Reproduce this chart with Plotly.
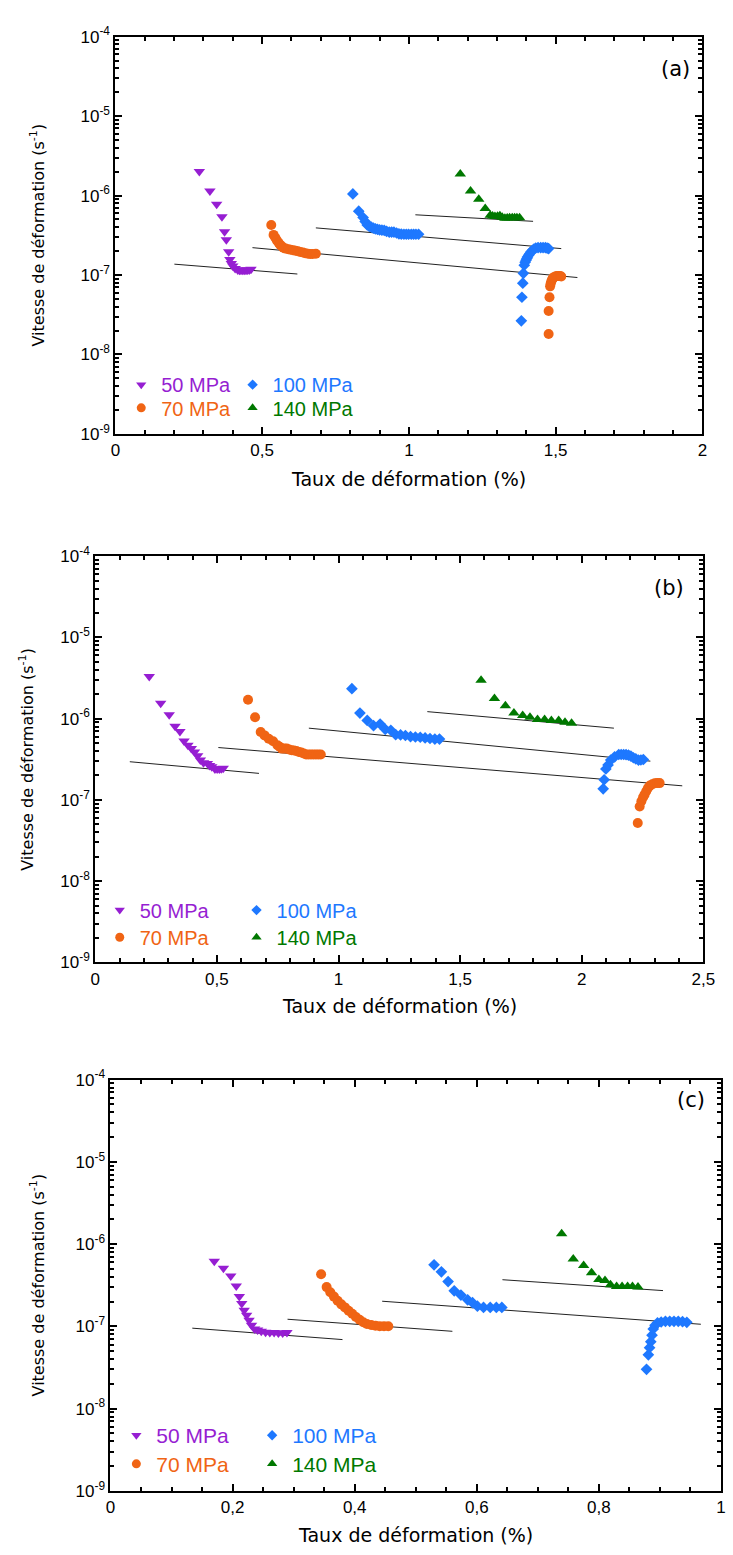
import plotly.graph_objects as go

W, H = 733, 1555

# ---------------- data : panel (a) ----------------
a_50_x = [0.286, 0.322, 0.345, 0.363, 0.372, 0.378, 0.386, 0.390, 0.395, 0.400, 0.408,
          0.417, 0.423, 0.428, 0.434, 0.439, 0.445, 0.450, 0.456, 0.462]
a_50_y = [2.01e-6, 1.14e-6, 7.8e-7, 5.4e-7, 3.5e-7, 2.78e-7, 1.96e-7, 1.57e-7, 1.40e-7, 1.30e-7, 1.21e-7,
          1.16e-7, 1.15e-7, 1.15e-7, 1.15e-7, 1.15e-7, 1.15e-7, 1.16e-7, 1.16e-7, 1.18e-7]
a_70_x = [0.531, 0.539, 0.545, 0.550, 0.556, 0.561, 0.567, 0.572, 0.580, 0.589, 0.597, 0.606, 0.614,
          0.622, 0.630, 0.639, 0.647, 0.656, 0.664, 0.672, 0.683,
          1.476, 1.476, 1.479, 1.481, 1.483, 1.485, 1.488, 1.490, 1.494, 1.499, 1.504, 1.510, 1.515, 1.519]
a_70_y = [4.27e-7, 3.2e-7, 2.95e-7, 2.73e-7, 2.55e-7, 2.41e-7, 2.3e-7, 2.21e-7, 2.15e-7, 2.11e-7, 2.08e-7, 2.05e-7, 2.02e-7,
          1.99e-7, 1.95e-7, 1.92e-7, 1.88e-7, 1.85e-7, 1.84e-7, 1.84e-7, 1.85e-7,
          1.81e-8, 3.52e-8, 5.25e-8, 7.2e-8, 7.8e-8, 8.3e-8, 8.8e-8, 9.1e-8, 9.4e-8, 9.57e-8, 9.7e-8, 9.75e-8, 9.7e-8, 9.57e-8]
a_100_x = [0.809, 0.829, 0.844, 0.851, 0.858, 0.865, 0.872, 0.879, 0.886, 0.893, 0.900, 0.908, 0.916,
           0.924, 0.933, 0.941, 0.949, 0.958, 0.966, 0.974, 0.983, 0.991, 0.999, 1.008, 1.016, 1.024, 1.033,
           1.383, 1.385, 1.388, 1.390, 1.393, 1.396, 1.399, 1.402, 1.404, 1.408, 1.412, 1.416, 1.421, 1.426,
           1.432, 1.440, 1.449, 1.457, 1.465, 1.471, 1.476]
a_100_y = [1.05e-6, 6.37e-7, 5.3e-7, 4.7e-7, 4.27e-7, 4.1e-7, 4.0e-7, 3.9e-7, 3.81e-7, 3.75e-7, 3.7e-7, 3.67e-7, 3.64e-7,
           3.55e-7, 3.47e-7, 3.47e-7, 3.47e-7, 3.38e-7, 3.30e-7, 3.28e-7, 3.26e-7, 3.26e-7, 3.26e-7, 3.26e-7, 3.26e-7, 3.26e-7, 3.26e-7,
           2.65e-8, 5.25e-8, 7.9e-8, 1.05e-7, 1.33e-7, 1.45e-7, 1.54e-7, 1.62e-7, 1.69e-7, 1.78e-7, 1.86e-7, 1.96e-7, 2.05e-7, 2.12e-7,
           2.19e-7, 2.21e-7, 2.21e-7, 2.21e-7, 2.21e-7, 2.18e-7, 2.15e-7]
a_140_x = [1.175, 1.210, 1.238, 1.260, 1.277, 1.285, 1.293, 1.302, 1.310, 1.318, 1.327, 1.335, 1.343, 1.352, 1.360, 1.368, 1.377]
a_140_y = [1.87e-6, 1.14e-6, 8.97e-7, 6.87e-7, 5.67e-7, 5.55e-7, 5.47e-7, 5.5e-7, 5.56e-7, 5.35e-7, 5.2e-7, 5.22e-7, 5.25e-7,
           5.25e-7, 5.25e-7, 5.25e-7, 5.25e-7]
a_fit50_x, a_fit50_y = [0.201, 0.620], [1.37e-7, 1.03e-7]
a_fit70_x, a_fit70_y = [0.467, 1.574], [2.21e-7, 9.3e-8]
a_fit100_x, a_fit100_y = [0.683, 1.519], [3.92e-7, 2.15e-7]
a_fit140_x, a_fit140_y = [1.022, 1.423], [5.73e-7, 4.74e-7]

# ---------------- data : panel (b) ----------------
b_50_x = [0.222, 0.269, 0.304, 0.328, 0.348, 0.365, 0.381, 0.395, 0.408, 0.421, 0.432, 0.445, 0.461,
          0.470, 0.479, 0.492, 0.501, 0.510, 0.518, 0.526]
b_50_y = [3.31e-6, 1.55e-6, 1.12e-6, 8.09e-7, 6.97e-7, 5.31e-7, 4.70e-7, 4.28e-7, 3.90e-7, 3.49e-7, 3.09e-7, 2.86e-7, 2.81e-7,
          2.65e-7, 2.56e-7, 2.40e-7, 2.40e-7, 2.40e-7, 2.42e-7, 2.45e-7]
b_70_x = [0.628, 0.657, 0.680, 0.696, 0.713, 0.731, 0.749, 0.758, 0.767, 0.777, 0.787, 0.797, 0.807, 0.817, 0.827,
          0.837, 0.847, 0.857, 0.867, 0.877, 0.887, 0.897, 0.907, 0.917, 0.927,
          2.230, 2.238, 2.245, 2.252, 2.258, 2.265, 2.272, 2.280, 2.290, 2.300, 2.310, 2.320]
b_70_y = [1.71e-6, 1.04e-6, 6.84e-7, 6.22e-7, 5.66e-7, 5.26e-7, 4.70e-7, 4.5e-7, 4.28e-7, 4.28e-7, 4.28e-7, 4.18e-7, 4.09e-7, 4.05e-7, 4.0e-7,
          3.9e-7, 3.83e-7, 3.72e-7, 3.62e-7, 3.62e-7, 3.62e-7, 3.62e-7, 3.62e-7, 3.62e-7, 3.62e-7,
          5.2e-8, 8.3e-8, 9.6e-8, 1.08e-7, 1.16e-7, 1.28e-7, 1.40e-7, 1.50e-7, 1.56e-7, 1.6e-7, 1.61e-7, 1.61e-7]
b_100_x = [1.055, 1.088, 1.118, 1.144, 1.171, 1.192, 1.215, 1.235, 1.255, 1.275, 1.296, 1.316, 1.336, 1.356, 1.376,
           1.396, 1.415,
           2.088, 2.092, 2.099, 2.108, 2.119, 2.135, 2.152, 2.162, 2.172, 2.182, 2.192, 2.202, 2.212, 2.222, 2.233, 2.243, 2.253]
b_100_y = [2.34e-6, 1.17e-6, 9.5e-7, 8.2e-7, 8.6e-7, 7.4e-7, 7.2e-7, 6.35e-7, 6.3e-7, 6.2e-7, 6.0e-7, 5.95e-7, 5.9e-7, 5.8e-7, 5.7e-7,
           5.6e-7, 5.6e-7,
           1.37e-7, 1.77e-7, 2.40e-7, 2.69e-7, 3.09e-7, 3.39e-7, 3.62e-7, 3.62e-7, 3.62e-7, 3.6e-7, 3.56e-7, 3.45e-7, 3.30e-7, 3.2e-7, 3.09e-7, 3.1e-7, 3.14e-7]
b_140_x = [1.586, 1.641, 1.686, 1.721, 1.757, 1.787, 1.818, 1.847, 1.875, 1.905, 1.931, 1.958]
b_140_y = [2.96e-6, 1.77e-6, 1.44e-6, 1.17e-6, 1.09e-6, 1.04e-6, 9.75e-7, 9.75e-7, 9.48e-7, 9.48e-7, 9.03e-7, 8.79e-7]
b_fit50_x, b_fit50_y = [0.142, 0.673], [2.95e-7, 2.12e-7]
b_fit70_x, b_fit70_y = [0.506, 2.413], [4.41e-7, 1.49e-7]
b_fit100_x, b_fit100_y = [0.878, 2.282], [7.64e-7, 3.0e-7]
b_fit140_x, b_fit140_y = [1.365, 2.132], [1.22e-6, 7.64e-7]

# ---------------- data : panel (c) ----------------
c_50_x = [0.170, 0.185, 0.197, 0.206, 0.211, 0.215, 0.219, 0.223, 0.227, 0.231, 0.236, 0.241, 0.247,
          0.254, 0.261, 0.268, 0.275, 0.282, 0.289]
c_50_y = [6.2e-7, 5.1e-7, 4.1e-7, 3.1e-7, 2.3e-7, 1.9e-7, 1.57e-7, 1.36e-7, 1.19e-7, 1.03e-7, 9.3e-8, 9.0e-8, 8.7e-8,
          8.5e-8, 8.4e-8, 8.4e-8, 8.3e-8, 8.3e-8, 8.4e-8]
c_70_x = [0.345, 0.354, 0.360, 0.366, 0.372, 0.378, 0.384, 0.390, 0.396, 0.402, 0.408, 0.414, 0.420,
          0.427, 0.434, 0.441, 0.448, 0.455]
c_70_y = [4.3e-7, 3.0e-7, 2.6e-7, 2.3e-7, 2.05e-7, 1.85e-7, 1.7e-7, 1.55e-7, 1.42e-7, 1.3e-7, 1.2e-7, 1.12e-7, 1.07e-7,
          1.04e-7, 1.02e-7, 1.0e-7, 1.0e-7, 1.0e-7]
c_100_x = [0.530, 0.542, 0.553, 0.563, 0.574, 0.585, 0.593, 0.601, 0.611, 0.622, 0.632, 0.641,
           0.878, 0.881, 0.883, 0.885, 0.887, 0.889, 0.892, 0.896, 0.902, 0.909, 0.916, 0.923, 0.930, 0.937, 0.944]
c_100_y = [5.6e-7, 4.6e-7, 3.5e-7, 2.7e-7, 2.4e-7, 2.1e-7, 1.94e-7, 1.76e-7, 1.70e-7, 1.70e-7, 1.70e-7, 1.70e-7,
           3.0e-8, 4.5e-8, 5.5e-8, 6.5e-8, 7.8e-8, 9.3e-8, 1.03e-7, 1.1e-7, 1.13e-7, 1.15e-7, 1.15e-7, 1.15e-7, 1.15e-7, 1.14e-7, 1.12e-7]
c_140_x = [0.739, 0.758, 0.775, 0.788, 0.800, 0.810, 0.819, 0.829, 0.838, 0.847, 0.855, 0.864]
c_140_y = [1.34e-6, 6.6e-7, 5.5e-7, 4.5e-7, 3.7e-7, 3.6e-7, 3.2e-7, 3.06e-7, 3.06e-7, 3.06e-7, 3.06e-7, 3.0e-7]
c_fit50_x, c_fit50_y = [0.134, 0.380], [9.5e-8, 6.9e-8]
c_fit70_x, c_fit70_y = [0.290, 0.560], [1.22e-7, 8.7e-8]
c_fit100_x, c_fit100_y = [0.445, 0.967], [2.02e-7, 1.06e-7]
c_fit140_x, c_fit140_y = [0.642, 0.905], [3.69e-7, 2.72e-7]

# ---------------- labels ----------------
series_names = ["50 MPa", "70 MPa", "100 MPa", "140 MPa"]
a_xticks, a_xticktext = [0, 0.5, 1, 1.5, 2], ["0", "0,5", "1", "1,5", "2"]
b_xticks, b_xticktext = [0, 0.5, 1, 1.5, 2, 2.5], ["0", "0,5", "1", "1,5", "2", "2,5"]
c_xticks, c_xticktext = [0, 0.2, 0.4, 0.6, 0.8, 1], ["0", "0,2", "0,4", "0,6", "0,8", "1"]
y_decades = [1e-9, 1e-8, 1e-7, 1e-6, 1e-5, 1e-4]
y_ticktext = ["10<sup>-9</sup>", "10<sup>-8</sup>", "10<sup>-7</sup>", "10<sup>-6</sup>",
              "10<sup>-5</sup>", "10<sup>-4</sup>"]
panel_labels = ["(a)", "(b)", "(c)"]
x_title = "Taux de déformation (%)"
y_title = "Vitesse de déformation (s<sup>-1</sup>)"

# ---------------- styles ----------------
COLORS = ["#961ED2", "#F06414", "#1E78FF", "#007800"]
SYMBOLS = ["triangle-down", "circle", "diamond", "triangle-up"]
MSIZE = [10, 10, 9, 10]
LSIZE = [9, 9, 8, 9]

fig = go.Figure()


def px_x(p):
    return p / W


def px_y(p):
    return 1 - p / H


panels = [
    dict(sfx="", data=[(a_50_x, a_50_y), (a_70_x, a_70_y), (a_100_x, a_100_y), (a_140_x, a_140_y)],
         fits=[(a_fit50_x, a_fit50_y), (a_fit70_x, a_fit70_y), (a_fit100_x, a_fit100_y), (a_fit140_x, a_fit140_y)],
         xd=[113, 714], yd=[25, 428], xr=[0, 2], xt=(a_xticks, a_xticktext), mdt=0.1,
         lab=(686, 58), ytitle_x=33, xtitle_y=474,
         legx=[140, 254], legy=[378, 401.5], legfs=20),
    dict(sfx="2", data=[(b_50_x, b_50_y), (b_70_x, b_70_y), (b_100_x, b_100_y), (b_140_x, b_140_y)],
         fits=[(b_fit50_x, b_fit50_y), (b_fit70_x, b_fit70_y), (b_fit100_x, b_fit100_y), (b_fit140_x, b_fit140_y)],
         xd=[92.4, 715], yd=[552, 964], xr=[0, 2.5], xt=(b_xticks, b_xticktext), mdt=0.1,
         lab=(680, 584), ytitle_x=22, xtitle_y=1008,
         legx=[118, 258], legy=[911, 938.5], legfs=20),
    dict(sfx="3", data=[(c_50_x, c_50_y), (c_70_x, c_70_y), (c_100_x, c_100_y), (c_140_x, c_140_y)],
         fits=[(c_fit50_x, c_fit50_y), (c_fit70_x, c_fit70_y), (c_fit100_x, c_fit100_y), (c_fit140_x, c_fit140_y)],
         xd=[108, 733], yd=[1083, 1500], xr=[0, 1], xt=(c_xticks, c_xticktext), mdt=0.05,
         lab=(702, 1104), ytitle_x=33, xtitle_y=1545,
         legx=[135, 274], legy=[1444, 1473], legfs=21),
]

minor_y = [k * d for d in y_decades[:-1] for k in range(2, 10)]
annotations = []
legend_n = 1
for idx, p in enumerate(panels):
    xa, ya = "x" + p["sfx"], "y" + p["sfx"]
    # fit lines
    for fx, fy in p["fits"]:
        fig.add_trace(go.Scatter(x=fx, y=fy, mode="lines", xaxis=xa, yaxis=ya, showlegend=False,
                                 line=dict(color="#222222", width=1), hoverinfo="skip"))
    # data
    for i, (dx, dy) in enumerate(p["data"]):
        fig.add_trace(go.Scatter(x=dx, y=dy, mode="markers", xaxis=xa, yaxis=ya, showlegend=False,
                                 marker=dict(symbol=SYMBOLS[i], size=MSIZE[i], color=COLORS[i], line=dict(width=0))))
    # legend entries: one small legend per entry (2 columns x 2 rows)
    for i in range(4):
        col, row = i // 2, i % 2
        lname = "legend" if legend_n == 1 else f"legend{legend_n}"
        fig.add_trace(go.Scatter(x=[None], y=[None], mode="markers", xaxis=xa, yaxis=ya,
                                 name=f"<span style='color:{COLORS[i]}'>{series_names[i]}</span>",
                                 legend=lname, showlegend=True,
                                 marker=dict(symbol=SYMBOLS[i], size=LSIZE[i], color=COLORS[i], line=dict(width=0))))
        fig.update_layout(**{lname: dict(x=px_x(p["legx"][col] - 21), y=px_y(p["legy"][row]),
                                         xanchor="left", yanchor="middle",
                                         bgcolor="rgba(0,0,0,0)", borderwidth=0,
                                         font=dict(family="Liberation Sans", size=p["legfs"], color="black"))})
        legend_n += 1

    axis_common = dict(showline=True, linewidth=2, linecolor="black", mirror="allticks",
                       ticks="inside", ticklen=7, tickwidth=1.5, tickcolor="black",
                       showgrid=False, zeroline=False,
                       tickfont=dict(family="Liberation Sans", size=17, color="black"))
    xdom = [px_x(p["xd"][0]), min(1.0, px_x(p["xd"][1]))]
    ydom = [px_y(p["yd"][1]), px_y(p["yd"][0])]
    fig.update_layout(**{
        "xaxis" + p["sfx"]: dict(domain=xdom, anchor=ya, range=p["xr"], tickmode="array",
                                 tickvals=p["xt"][0], ticktext=p["xt"][1],
                                 minor=dict(ticks="inside", ticklen=4, tickwidth=1.5, tickcolor="black",
                                            tickmode="linear", tick0=0, dtick=p["mdt"], showgrid=False),
                                 **axis_common),
        "yaxis" + p["sfx"]: dict(domain=ydom, anchor=xa, type="log", range=[-9, -4], tickmode="array",
                                 tickvals=y_decades, ticktext=y_ticktext,
                                 minor=dict(ticks="inside", ticklen=4, tickwidth=1.5, tickcolor="black",
                                            tickmode="array", tickvals=minor_y, showgrid=False),
                                 **axis_common),
    })
    # texts
    annotations.append(dict(x=px_x(p["lab"][0]), y=px_y(p["lab"][1]), xref="paper", yref="paper",
                            text=panel_labels[idx], showarrow=False, xanchor="center", yanchor="middle",
                            font=dict(family="DejaVu Sans", size=21, color="black")))
    annotations.append(dict(x=px_x(p["ytitle_x"]), y=(ydom[0] + ydom[1]) / 2, xref="paper", yref="paper",
                            text=y_title, textangle=-90, showarrow=False, xanchor="center", yanchor="middle",
                            font=dict(family="DejaVu Sans", size=16, color="black")))
    annotations.append(dict(x=px_x((p["xd"][0] + p["xd"][1]) / 2), y=px_y(p["xtitle_y"]), xref="paper", yref="paper",
                            text=x_title, showarrow=False, xanchor="center", yanchor="middle",
                            font=dict(family="DejaVu Sans", size=19, color="black")))

fig.update_layout(width=W, height=H, margin=dict(l=0, r=0, t=0, b=0),
                  paper_bgcolor="white", plot_bgcolor="white", annotations=annotations,
                  showlegend=True)

# remove the browser's default 8px page margin so the figure fills the window exactly
fig.write_html("out.html", config={"displayModeBar": False},
               post_script="document.body.style.margin='0';document.body.style.overflow='hidden';")
